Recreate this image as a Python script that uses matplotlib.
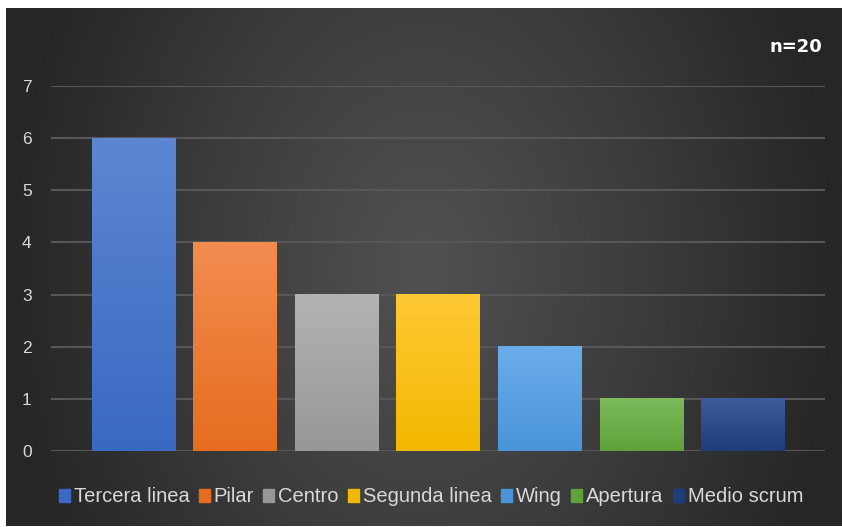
import numpy as np
import matplotlib.pyplot as plt
from matplotlib.colors import LinearSegmentedColormap, to_rgb

plt.rcParams['font.family'] = ['Liberation Sans', 'DejaVu Sans']

positions = ['Tercera linea', 'Pilar', 'Centro', 'Segunda linea', 'Wing', 'Apertura', 'Medio scrum']
counts = [6, 4, 3, 3, 2, 1, 1]
n_total = 20
yticks = [0, 1, 2, 3, 4, 5, 6, 7]

# top / bottom colour of each bar's vertical gradient
top_colors = ['#5d86d2', '#f28c50', '#b3b3b3', '#ffc934', '#6badea', '#7dbb5c', '#3e5c9c']
bottom_colors = ['#3a69c2', '#e66d1e', '#979797', '#f2b800', '#4a94db', '#5ea23a', '#1f3d79']

W, H = 842, 527
fig = plt.figure(figsize=(W / 100, H / 100), dpi=100)
fig.patch.set_facecolor('white')

# dark radial background of the chart area
bg = fig.add_axes([6 / W, 1 - 526 / H, 836 / W, 518 / H])
gx, gy = np.meshgrid(np.linspace(-1, 1, 400), np.linspace(-1, 1, 250))
r = np.sqrt(gx ** 2 + (gy / 2.2) ** 2)
r = np.clip(r, 0, 1)
bg_cmap = LinearSegmentedColormap.from_list('bg', ['#515151', '#3d3d3d', '#262626'])
bg.imshow(r, cmap=bg_cmap, aspect='auto', extent=[0, 1, 0, 1], interpolation='bilinear')
bg.set_axis_off()

ax = fig.add_axes([51 / W, 1 - 451 / H, 774 / W, 365 / H])
ax.patch.set_alpha(0)
x = np.arange(len(positions))
bars = ax.bar(x, counts, width=0.82, color=bottom_colors, zorder=2)

# vertical gradient on every bar
for b, c_top, c_bot in zip(bars, top_colors, bottom_colors):
    grad = np.linspace(0, 1, 100).reshape(-1, 1)
    cmap = LinearSegmentedColormap.from_list('g', [to_rgb(c_top), to_rgb(c_bot)])
    x0, w, h = b.get_x(), b.get_width(), b.get_height()
    ax.imshow(grad, cmap=cmap, aspect='auto', extent=[x0, x0 + w, 0, h],
              zorder=3, interpolation='bilinear')

ax.set_xlim(-0.81, len(positions) - 1 + 0.81)
ax.set_ylim(0, 7)
ax.set_yticks(yticks)
ax.set_xticks([])
ax.grid(axis='y', color='#575757', linewidth=1.5, zorder=1)
ax.tick_params(axis='y', length=0, pad=14, labelsize=12.5, labelcolor='#d9d9d9')
for s in ax.spines.values():
    s.set_visible(False)

fig.text(822 / W, 1 - 47 / H, f'n={n_total}', color='white', fontsize=13,
         fontweight='bold', ha='right', va='center', family='DejaVu Sans')

handles = [plt.Rectangle((0, 0), 1, 1, color=c) for c in bottom_colors]
leg = fig.legend(handles, positions, loc='center', bbox_to_anchor=(431 / W, 1 - 497 / H),
                 ncol=len(positions), frameon=False, fontsize=14.5, handlelength=0.55,
                 handleheight=0.65, handletextpad=0.2, columnspacing=0.45)
for t in leg.get_texts():
    t.set_color('#d9d9d9')

fig.savefig('out.png', dpi=100)
